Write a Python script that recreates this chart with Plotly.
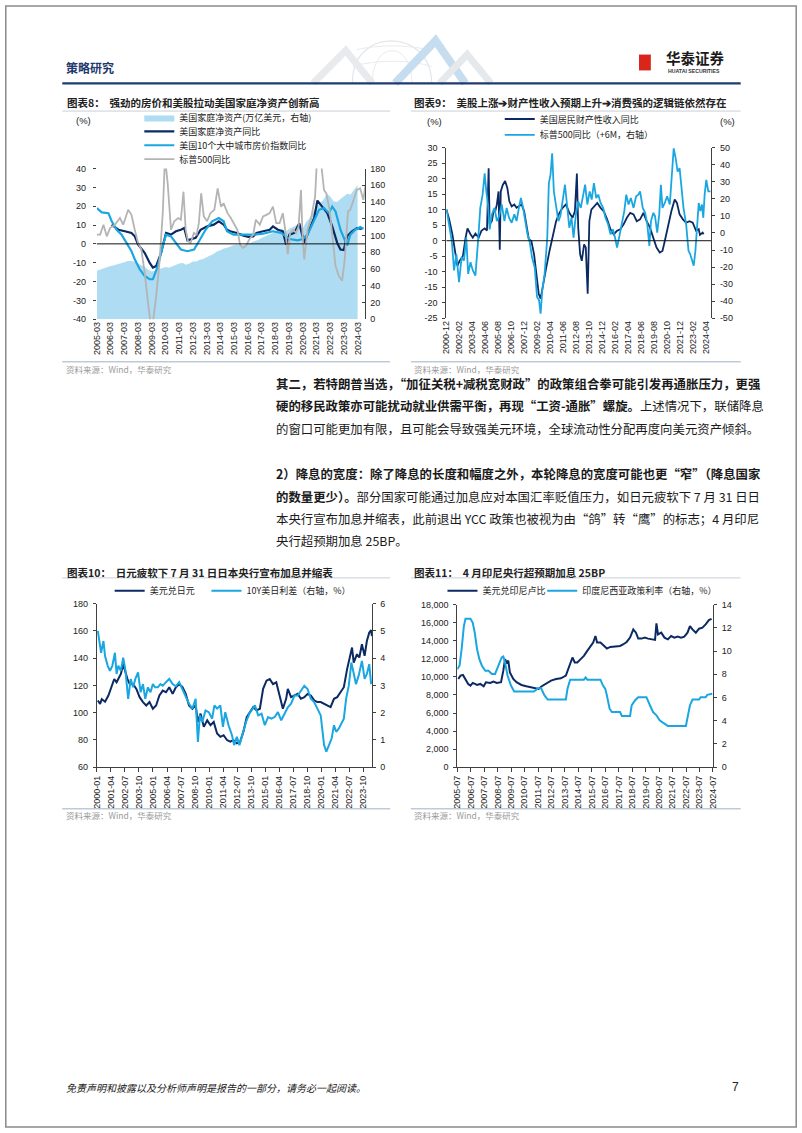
import plotly.graph_objects as go

W, H = 802, 1133
def fx(p): return p / W
def fy(p): return 1 - p / H
def ym(s):
    y, m = s.split("-")
    return int(y) + (int(m) - 1) / 12

NAVY = "#0B2A64"
SKY = "#1AA7E1"
AREA = "#AEDCF2"
GREY = "#B4B4B4"
AX = "#404040"
TXT = "#222222"
LAT = "Arial, Liberation Sans, Noto Sans CJK SC, sans-serif"
CJK = "Noto Sans CJK SC, Noto Sans, sans-serif"

# ---------------- Chart 8 data ----------------
c8_xlabels = ["2005-03", "2006-03", "2007-03", "2008-03", "2009-03", "2010-03", "2011-03",
              "2012-03", "2013-03", "2014-03", "2015-03", "2016-03", "2017-03", "2018-03",
              "2019-03", "2020-03", "2021-03", "2022-03", "2023-03", "2024-03"]
c8_left_ticks = [-40, -30, -20, -10, 0, 10, 20, 30, 40]
c8_right_ticks = [0, 20, 40, 60, 80, 100, 120, 140, 160, 180]
c8_networth_first = "2005-03"   # quarterly series
c8_networth = [58, 59.5, 61, 62, 63.5, 64.5, 65.5, 67, 68, 69.5, 69.5, 68.5,
               66.5, 65, 62.5, 59, 57, 58, 60, 61, 62.5, 61.5, 63.5, 65,
               66.5, 67, 65, 66.5, 69, 69, 71, 72, 74.5, 76, 78, 81,
               82.5, 84.5, 85.5, 87, 88.5, 89, 88, 89, 90, 91.5, 93.5, 94.5,
               97, 99, 101, 103, 104.5, 106, 108, 104, 108, 110, 112, 115,
               108, 116, 121, 128, 133, 139, 142, 150, 147, 141, 140, 144,
               147, 150, 149, 155, 160]
c8_nw_yoy_t = [2006.25, 2006.73, 2007.21, 2007.69, 2007.93, 2008.17, 2008.65, 2009.01, 2009.25, 2009.49,
               2009.85, 2010.21, 2010.57, 2010.93, 2011.29, 2011.53, 2011.77, 2012.01, 2012.37, 2012.73,
               2013.21, 2013.69, 2014.05, 2014.41, 2014.65, 2014.89, 2015.37, 2015.85, 2016.21, 2016.56,
               2016.80, 2017.28, 2017.76, 2018.00, 2018.36, 2018.72, 2018.96, 2019.20, 2019.56, 2019.92,
               2020.28, 2020.64, 2021.00, 2021.24, 2021.60, 2021.96, 2022.32, 2022.68, 2022.92, 2023.16,
               2023.40, 2023.76, 2024.12, 2024.48]
c8_nw_yoy = [10.2, 7.5, 6.7, 5.8, 4.0, -0.3, -4.7, -10.0, -12.6, -11.8,
             -4.7, 5.8, 4.9, 6.7, 7.5, 8.4, 1.9, 2.3, 3.2, 7.5,
             9.3, 10.2, 12.0, 10.2, 7.5, 6.7, 5.8, 4.4, 3.7, 4.0,
             5.8, 6.7, 7.5, 9.3, 7.5, 6.7, -0.4, 4.9, 5.8, 11.0,
             0.5, 7.5, 13.7, 23.0, 19.8, 16.3, 9.3, 0.5, -3.0, -3.3,
             4.0, 6.7, 8.4, 7.9]
c8_hp_t = [2005.17, 2005.53, 2006.01, 2006.25, 2006.61, 2006.97, 2007.33, 2007.69, 2007.93, 2008.29,
           2008.65, 2009.01, 2009.25, 2009.61, 2009.97, 2010.21, 2010.57, 2010.93, 2011.29, 2011.77,
           2012.25, 2012.61, 2013.09, 2013.57, 2014.05, 2014.41, 2014.65, 2015.12, 2015.85, 2016.56,
           2017.28, 2018.00, 2018.60, 2019.20, 2019.80, 2020.16, 2020.52, 2020.88, 2021.36, 2021.72,
           2022.08, 2022.32, 2022.56, 2022.92, 2023.28, 2023.40, 2023.64, 2024.00, 2024.36, 2024.60]
c8_hp = [19.0, 16.7, 16.3, 12.0, 7.5, 4.9, 0.5, -3.9, -8.2, -13.5,
         -17.0, -18.8, -18.8, -11.8, -1.2, 4.9, 4.0, 0.5, -3.0, -3.9,
         -3.0, 1.4, 7.5, 12.0, 13.7, 12.0, 6.7, 4.9, 4.9, 4.9,
         5.4, 6.7, 5.8, 2.6, 1.9, 2.6, 4.9, 10.2, 18.1, 19.0,
         16.3, 19.8, 17.2, 7.5, 0.5, -0.9, 4.9, 7.5, 8.9, 8.0]
c8_spx_t = [2005.17, 2005.41, 2005.65, 2005.89, 2006.13, 2006.49, 2006.85, 2007.09, 2007.45, 2007.69,
            2007.93, 2008.17, 2008.41, 2008.65, 2008.89, 2009.08, 2009.25, 2009.49, 2009.73, 2009.97,
            2010.13, 2010.33, 2010.57, 2010.81, 2011.09, 2011.29, 2011.48, 2011.64, 2011.81, 2012.00,
            2012.24, 2012.44, 2012.60, 2012.77, 2012.96, 2013.20, 2013.44, 2013.73, 2013.97, 2014.21,
            2014.40, 2014.69, 2014.93, 2015.17, 2015.41, 2015.60, 2015.79, 2016.03, 2016.27, 2016.56,
            2016.75, 2017.04, 2017.28, 2017.52, 2017.76, 2018.00, 2018.24, 2018.48, 2018.72, 2018.91,
            2019.08, 2019.25, 2019.49, 2019.68, 2019.87, 2020.04, 2020.16, 2020.28, 2020.52, 2020.76,
            2021.07, 2021.24, 2021.48, 2021.72, 2021.89, 2022.13, 2022.37, 2022.56, 2022.80, 2023.04,
            2023.23, 2023.47, 2023.64, 2023.88, 2024.11, 2024.35, 2024.59, 2024.74]
c8_spx = [4.9, 4.9, 10.2, 4.0, 8.4, 10.2, 13.7, 10.2, 18.1, 15.4,
          7.5, 0.5, -3.0, -15.3, -31.0, -42.0, -42.0, -27.7, -10.0, 16.3,
          46.0, 32.0, 7.5, 12.0, 13.7, 12.8, 27.7, 7.5, 1.4, 0.5,
          5.8, 4.9, 11.0, 26.8, 14.6, 12.0, 16.3, 18.1, 29.5, 19.8,
          21.6, 16.3, 13.7, 10.2, 7.5, -0.4, -2.1, -1.2, 2.3, 4.9,
          12.8, 10.2, 14.6, 15.4, 16.3, 19.8, 11.0, 11.0, 16.3, 6.7,
          -5.6, 5.8, 7.5, 5.8, 9.3, 28.6, 4.0, -8.2, 7.5, 12.8,
          25.0, 50.0, 45.0, 28.6, 26.8, 18.1, 2.3, -11.8, -17.0, -19.6,
          -8.2, 17.2, 18.1, 23.3, 28.6, 29.5, 23.3, 31.2]

# ---------------- Chart 9 data ----------------
c9_xlabels = ["2000-12", "2002-02", "2003-04", "2004-06", "2005-08", "2006-10", "2007-12",
              "2009-02", "2010-04", "2011-06", "2012-08", "2013-10", "2014-12", "2016-02",
              "2017-04", "2018-06", "2019-08", "2020-10", "2021-12", "2023-02", "2024-04"]
c9_left_ticks = [-25, -20, -15, -10, -5, 0, 5, 10, 15, 20, 25, 30]
c9_right_ticks = [-50, -40, -30, -20, -10, 0, 10, 20, 30, 40, 50]
c9_inc_t = [2000.92, 2001.16, 2001.45, 2001.69, 2001.90, 2002.10, 2002.40, 2002.64, 2002.81, 2003.08,
            2003.29, 2003.52, 2003.82, 2004.06, 2004.35, 2004.56, 2004.71, 2004.80, 2005.00, 2005.15,
            2005.30, 2005.45, 2005.60, 2005.71, 2005.80, 2005.98, 2006.19, 2006.39, 2006.57, 2006.78,
            2007.02, 2007.22, 2007.43, 2007.67, 2007.90, 2008.11, 2008.32, 2008.55, 2008.79, 2009.00,
            2009.21, 2009.38, 2009.59, 2009.89, 2010.18, 2010.48, 2010.77, 2011.07, 2011.36, 2011.66,
            2011.96, 2012.25, 2012.46, 2012.64, 2012.76, 2012.93, 2013.08, 2013.29, 2013.44, 2013.61,
            2013.76, 2013.94, 2014.18, 2014.47, 2014.77, 2015.06, 2015.36, 2015.66, 2015.95, 2016.25,
            2016.54, 2016.84, 2017.13, 2017.43, 2017.73, 2018.02, 2018.32, 2018.62, 2018.91, 2019.21,
            2019.50, 2019.80, 2020.09, 2020.33, 2020.54, 2020.84, 2021.13, 2021.43, 2021.63, 2021.87,
            2022.17, 2022.46, 2022.76, 2023.05, 2023.35, 2023.59, 2023.70, 2023.94, 2024.03]
c9_inc = [10, 6.9, 2.1, -3.3, -8.1, -6.5, -4.9, 1, 4, 2.1,
          1, 2.3, 1, 3.2, 4, 3.3, 23.4, 5.3, 6.3, 9.5,
          9.5, 11.7, 15.9, -2.9, 15.9, 18, 19.3, 17, 12.7, 11.1,
          11.7, 10.6, 11.1, 11.7, 9.5, 4.2, 0.5, -0.1, -4.3, -10.7,
          -17.1, -18.7, -15, -8.6, -3.3, 2.1, 6.3, 9, 10.6, 11.7,
          9, 7.4, 9.5, 21.7, 4.2, -4.3, -6.5, -1.2, -2.2, -17.1,
          6.3, 10, 11.1, 12.2, 10.6, 9.5, 6.9, 3.7, 2.1, 3.2,
          3.7, 5.3, 7.4, 9, 8.5, 6.3, 6.9, 9, 6.3, 4.2,
          1, -2.2, -3.8, -3.3, -0.1, 5.3, 9.5, 13.3, 12.2, 8.5,
          6.9, 5.8, 6.3, 5.8, 3.2, 3.7, 1.9, 2.6, 2.1]
c9_spx_t = [2000.92, 2001.16, 2001.40, 2001.60, 2001.81, 2002.05, 2002.28, 2002.49, 2002.70, 2002.87,
            2003.08, 2003.29, 2003.52, 2003.76, 2003.96, 2004.17, 2004.35, 2004.50, 2004.65, 2004.80,
            2005.00, 2005.24, 2005.45, 2005.65, 2005.89, 2006.13, 2006.33, 2006.54, 2006.78, 2007.02,
            2007.22, 2007.43, 2007.61, 2007.81, 2008.02, 2008.20, 2008.41, 2008.61, 2008.85, 2009.06,
            2009.24, 2009.38, 2009.53, 2009.74, 2009.98, 2010.12, 2010.27, 2010.42, 2010.57, 2010.77,
            2010.98, 2011.16, 2011.36, 2011.57, 2011.75, 2011.96, 2012.16, 2012.34, 2012.55, 2012.76,
            2012.99, 2013.20, 2013.38, 2013.58, 2013.79, 2013.97, 2014.17, 2014.38, 2014.56, 2014.77,
            2015.00, 2015.21, 2015.45, 2015.66, 2015.89, 2016.10, 2016.25, 2016.49, 2016.69, 2016.90,
            2017.08, 2017.28, 2017.49, 2017.73, 2017.96, 2018.17, 2018.32, 2018.56, 2018.77, 2018.97,
            2019.15, 2019.30, 2019.51, 2019.66, 2019.86, 2020.04, 2020.19, 2020.33, 2020.54, 2020.75,
            2020.99, 2021.19, 2021.34, 2021.52, 2021.69, 2021.87, 2022.02, 2022.22, 2022.46, 2022.67,
            2022.82, 2022.99, 2023.14, 2023.29, 2023.44, 2023.59, 2023.73, 2023.88, 2024.00, 2024.12,
            2024.27, 2024.45, 2024.65]
c9_spx = [14, 5, -4.7, -22, -12.4, -28.9, -14.3, -16.3, -2.7, -24,
          -17.2, -22, -25, -4.7, 14.7, 22.5, 35, 24.4, 16.7, 2.1,
          10.9, 14.7, 7, 9.9, 16.7, 7, 14.7, 8.9, 6, 10.9,
          7, 14.7, 20.5, 14.7, 5, -0.8, -5.6, -14.3, -20.2, -37.6,
          -39.5, -47.3, -33.7, -24, -2.7, 29.3, 34.1, 46.7, 24.4, 14.7,
          7, 9.9, 17.6, 28.3, 16.7, 3.1, 8.9, -2.7, 10.9, 18.6,
          14.7, 21.5, 28.3, 16.7, 24.4, 19.6, 29.3, 20.5, 22.5, 17.6,
          14.7, 8.9, 5, -0.8, 2.1, -3.7, -8.5, -0.8, 5, 12.8,
          22.5, 16.7, 20.5, 14.7, 21.5, 22.5, 24.4, 14.7, 11.8, 5,
          -7.6, 7, 11.8, 9.9, 0.2, 10.9, 28.3, 14.7, 17.6, 21.5,
          16.7, 34.1, 49.6, 43.8, 36, 38, 28.3, 14.7, 5, -10.5,
          -12.4, -16.3, -19.2, -10.5, 3.1, 17.6, 12.8, 16.7, 8.9, 22.5,
          31.2, 24.4, 24.4]

# ---------------- Chart 10 data ----------------
c10_xlabels = ["2000-01", "2001-04", "2002-07", "2003-10", "2005-01", "2006-04", "2007-07",
               "2008-10", "2010-01", "2011-04", "2012-07", "2013-10", "2015-01", "2016-04",
               "2017-07", "2018-10", "2020-01", "2021-04", "2022-07", "2023-10"]
c10_left_ticks = [60, 80, 100, 120, 140, 160, 180]
c10_right_ticks = [0, 1, 2, 3, 4, 5, 6]
c10_jpy_t = [2000.09, 2000.29, 2000.44, 2000.73, 2001.03, 2001.32, 2001.55, 2001.76, 2001.97, 2002.14,
             2002.35, 2002.49, 2002.73, 2002.93, 2003.23, 2003.52, 2003.81, 2004.11, 2004.40, 2004.69,
             2004.99, 2005.28, 2005.57, 2005.87, 2006.16, 2006.45, 2006.75, 2007.04, 2007.33, 2007.63,
             2007.92, 2008.21, 2008.51, 2008.80, 2009.00, 2009.24, 2009.53, 2009.83, 2010.12, 2010.41,
             2010.71, 2011.00, 2011.29, 2011.59, 2011.88, 2012.17, 2012.47, 2012.76, 2013.05, 2013.35,
             2013.64, 2013.93, 2014.23, 2014.52, 2014.81, 2015.11, 2015.40, 2015.69, 2015.98, 2016.28,
             2016.57, 2016.86, 2017.01, 2017.30, 2017.60, 2017.89, 2018.18, 2018.48, 2018.77, 2019.06,
             2019.36, 2019.65, 2019.94, 2020.24, 2020.53, 2020.82, 2021.12, 2021.41, 2021.70, 2022.00,
             2022.29, 2022.58, 2022.73, 2022.88, 2023.17, 2023.38, 2023.61, 2023.85, 2024.05, 2024.26,
             2024.43, 2024.50]
c10_jpy = [109, 106.5, 110, 108, 112.6, 118.7, 124.7, 122.3, 126, 128.4,
           135.6, 130.8, 124.7, 121, 121, 117.5, 111.4, 107.8, 105.3, 107.8,
           102.9, 105.3, 112.6, 116.2, 115, 118.7, 113.8, 118.7, 121, 118.7,
           113.8, 105.3, 102.9, 105.3, 93.2, 99.3, 89.6, 94.4, 90.8, 93.2,
           84.7, 82.3, 83.5, 79.9, 78.7, 79.9, 77.5, 78.7, 85.9, 96.8,
           100.5, 104.1, 101.7, 102.9, 117.5, 123.5, 124.7, 121, 122.3, 112.6,
           102.9, 110.2, 117.5, 111.4, 112.6, 113.8, 110.2, 111.4, 113.8, 112.6,
           109, 107.8, 107.8, 106.5, 105.8, 104.1, 110.2, 111.4, 115, 118.7,
           132, 141.7, 147.8, 136.8, 142.9, 140.5, 150.2, 141.7, 152.6, 158.7,
           160.6, 156.2]
c10_spread_t = [2000.09, 2000.21, 2000.38, 2000.59, 2000.73, 2000.97, 2001.17, 2001.38, 2001.61, 2001.76,
                2001.91, 2002.14, 2002.35, 2002.55, 2002.79, 2003.02, 2003.23, 2003.43, 2003.67, 2003.90,
                2004.11, 2004.31, 2004.55, 2004.78, 2004.99, 2005.19, 2005.43, 2005.66, 2005.87, 2006.16,
                2006.45, 2006.75, 2007.04, 2007.33, 2007.63, 2007.92, 2008.21, 2008.51, 2008.80, 2009.00,
                2009.18, 2009.39, 2009.68, 2009.97, 2010.27, 2010.47, 2010.71, 2011.00, 2011.23, 2011.44,
                2011.73, 2012.03, 2012.23, 2012.47, 2012.70, 2012.99, 2013.29, 2013.58, 2013.87, 2014.08,
                2014.37, 2014.67, 2014.96, 2015.25, 2015.54, 2015.84, 2016.13, 2016.42, 2016.72, 2017.01,
                2017.30, 2017.60, 2017.89, 2018.18, 2018.48, 2018.77, 2019.06, 2019.36, 2019.65, 2019.94,
                2020.24, 2020.44, 2020.68, 2020.91, 2021.12, 2021.32, 2021.56, 2021.79, 2022.00, 2022.20,
                2022.44, 2022.67, 2022.88, 2023.08, 2023.32, 2023.61, 2023.85, 2024.05, 2024.26, 2024.43]
c10_spread = [5.0, 4.57, 4.2, 4.63, 4.08, 3.72, 3.54, 3.72, 4.2, 3.42,
              3.72, 3.54, 4.02, 3.54, 2.51, 3.24, 2.93, 3.24, 3.48, 2.75,
              3.05, 2.51, 2.93, 2.75, 3.05, 2.93, 2.93, 3.05, 2.99, 3.12,
              3.24, 3.05, 2.97, 3.12, 2.87, 2.63, 2.33, 2.15, 2.51, 0.93,
              1.9, 1.66, 2.08, 2.02, 1.78, 2.27, 2.15, 2.27, 1.48, 2.02,
              1.54, 1.18, 0.81, 1.12, 0.81, 1.24, 1.66, 1.96, 2.15, 2.27,
              1.9, 1.96, 1.54, 1.84, 1.78, 1.84, 2.02, 1.72, 1.96, 2.2,
              2.33, 2.63, 2.63, 2.81, 2.99, 2.87, 2.51, 2.39, 2.15, 1.9,
              0.81, 0.57, 0.81, 1.05, 1.54, 1.3, 1.42, 1.6, 1.78, 2.51,
              2.99, 3.84, 3.36, 3.05, 3.36, 3.9, 3.24, 3.42, 3.78, 3.05]

# ---------------- Chart 11 data ----------------
c11_xlabels = ["2005-07", "2006-07", "2007-07", "2008-07", "2009-07", "2010-07", "2011-07",
               "2012-07", "2013-07", "2014-07", "2015-07", "2016-07", "2017-07", "2018-07",
               "2019-07", "2020-07", "2021-07", "2022-07", "2023-07", "2024-07"]
c11_left_ticks = [0, 2000, 4000, 6000, 8000, 10000, 12000, 14000, 16000, 18000]
c11_right_ticks = [0, 2, 4, 6, 8, 10, 12, 14]
c11_idr_t = [2005.57, 2005.74, 2005.92, 2006.11, 2006.31, 2006.48, 2006.65, 2006.97, 2007.21, 2007.46,
             2007.63, 2007.95, 2008.19, 2008.43, 2008.75, 2008.92, 2009.05, 2009.17, 2009.29, 2009.41,
             2009.66, 2009.90, 2010.27, 2010.63, 2011.00, 2011.25, 2011.54, 2011.78, 2012.10, 2012.47,
             2012.84, 2013.20, 2013.57, 2013.74, 2013.94, 2014.06, 2014.23, 2014.42, 2014.67, 2014.91,
             2015.16, 2015.40, 2015.60, 2015.77, 2015.89, 2016.14, 2016.38, 2016.62, 2016.87, 2017.11,
             2017.36, 2017.60, 2017.85, 2018.09, 2018.34, 2018.58, 2018.78, 2018.95, 2019.19, 2019.44,
             2019.68, 2019.93, 2020.20, 2020.30, 2020.42, 2020.66, 2020.90, 2021.15, 2021.39, 2021.64,
             2021.88, 2022.13, 2022.37, 2022.61, 2022.79, 2022.98, 2023.23, 2023.47, 2023.72, 2023.96,
             2024.20, 2024.40]
c11_idr = [9770, 10140, 10210, 9770, 9220, 9040, 9330, 9110, 9220, 8970,
           9410, 9330, 9480, 9330, 9410, 10690, 11970, 11600, 11790, 10500,
           9770, 9410, 9110, 8970, 8860, 8750, 8670, 8970, 9220, 9590,
           9770, 9850, 10140, 10870, 11600, 12150, 11600, 11600, 11970, 12330,
           12880, 13430, 13800, 14530, 13800, 13800, 13430, 13140, 13320, 13360,
           13430, 13430, 13620, 13870, 14350, 15260, 14900, 14240, 14240, 14350,
           14240, 14160, 14100, 15920, 14710, 14900, 14350, 14160, 14530, 14350,
           14460, 14350, 14460, 14900, 15630, 15260, 14900, 15340, 15450, 15810,
           16290, 16430]
c11_rate_t = [2005.50, 2005.67, 2005.82, 2005.99, 2006.11, 2006.48, 2006.65, 2006.80, 2006.97, 2007.14,
              2007.33, 2007.58, 2007.82, 2008.07, 2008.31, 2008.56, 2008.80, 2008.92, 2009.05, 2009.24,
              2009.49, 2009.73, 2010.02, 2010.51, 2011.20, 2011.49, 2011.73, 2011.98, 2012.22, 2012.47,
              2013.57, 2013.69, 2013.89, 2014.91, 2015.04, 2015.16, 2016.14, 2016.33, 2016.50, 2016.62,
              2016.82, 2016.99, 2017.60, 2017.73, 2018.34, 2018.46, 2018.70, 2018.95, 2019.56, 2019.80,
              2020.05, 2020.30, 2020.54, 2020.78, 2021.15, 2022.49, 2022.61, 2022.79, 2022.98, 2023.47,
              2023.59, 2023.96, 2024.08, 2024.45]
c11_rate = [8.45, 8.74, 10.16, 12.15, 12.78, 12.78, 12.44, 11.58, 10.16, 9.31,
            8.74, 8.31, 8.31, 8.03, 8.03, 8.74, 9.45, 9.53, 9.02, 7.88,
            7.03, 6.52, 6.52, 6.52, 6.52, 6.8, 6.8, 6.18, 5.83, 5.83,
            5.83, 6.75, 7.54, 7.54, 7.74, 7.54, 7.54, 7.03, 6.75, 6.18,
            5.04, 4.75, 4.75, 4.41, 4.41, 5.32, 5.75, 6.03, 6.03, 5.38,
            4.75, 4.47, 4.04, 3.84, 3.56, 3.56, 4.18, 5.32, 5.83, 5.83,
            6.03, 6.03, 6.23, 6.32]

# ---------------- texts ----------------
title8 = "<b>图表8：  强劲的房价和美股拉动美国家庭净资产创新高</b>"
title9 = "<b>图表9：  美股上涨➔财产性收入预期上升➔消费强的逻辑链依然存在</b>"
title10 = "<b>图表10：  日元疲软下 7 月 31 日日本央行宣布加息并缩表</b>"
title11 = "<b>图表11：  4 月印尼央行超预期加息 25BP</b>"
source = "资料来源：Wind，华泰研究"
body_lines = [
    "<b>其二，若特朗普当选，“加征关税+减税宽财政”的政策组合拳可能引发再通胀压力，更强</b>",
    "<b>硬的移民政策亦可能扰动就业供需平衡，再现“工资-通胀”螺旋。</b>上述情况下，联储降息",
    "的窗口可能更加有限，且可能会导致强美元环境，全球流动性分配再度向美元资产倾斜。",
    "<b>2）降息的宽度：除了降息的长度和幅度之外，本轮降息的宽度可能也更“窄”（降息国家</b>",
    "<b>的数量更少）。</b>部分国家可能通过加息应对本国汇率贬值压力，如日元疲软下 7 月 31 日日",
    "本央行宣布加息并缩表，此前退出 YCC 政策也被视为由“鸽”转“鹰”的标志；4 月印尼",
    "央行超预期加息 25BP。",
]
body_y = [382, 405, 428, 473, 496, 519, 541]

fig = go.Figure()

# chart 8 (area on base right axis, lines on overlay left axis)
c8_nw_t = [ym(c8_networth_first) + 0.25 * i for i in range(len(c8_networth))]
fig.add_trace(go.Scatter(x=c8_nw_t, y=c8_networth, xaxis="x", yaxis="y", mode="lines",
                         fill="tozeroy", fillcolor=AREA, line=dict(width=0, color=AREA),
                         name="美国家庭净资产(万亿美元，右轴)", legend="legend"))
fig.add_trace(go.Scatter(x=c8_nw_yoy_t, y=c8_nw_yoy, xaxis="x", yaxis="y2", mode="lines",
                         line=dict(color=NAVY, width=2.2), name="美国家庭净资产同比", legend="legend2"))
fig.add_trace(go.Scatter(x=c8_hp_t, y=c8_hp, xaxis="x", yaxis="y2", mode="lines",
                         line=dict(color=SKY, width=2.2), name="美国10个大中城市房价指数同比", legend="legend3"))
fig.add_trace(go.Scatter(x=c8_spx_t, y=c8_spx, xaxis="x", yaxis="y2", mode="lines",
                         line=dict(color=GREY, width=1.8), name="标普500同比", legend="legend4"))

# chart 9
fig.add_trace(go.Scatter(x=c9_inc_t, y=c9_inc, xaxis="x2", yaxis="y3", mode="lines",
                         line=dict(color=NAVY, width=1.8), name="美国居民财产性收入同比", legend="legend5"))
fig.add_trace(go.Scatter(x=c9_spx_t, y=c9_spx, xaxis="x2", yaxis="y4", mode="lines",
                         line=dict(color=SKY, width=1.8), name="标普500同比（+6M，右轴）", legend="legend6"))

# chart 10
fig.add_trace(go.Scatter(x=c10_jpy_t, y=c10_jpy, xaxis="x3", yaxis="y5", mode="lines",
                         line=dict(color=NAVY, width=2), name="美元兑日元", legend="legend7"))
fig.add_trace(go.Scatter(x=c10_spread_t, y=c10_spread, xaxis="x3", yaxis="y6", mode="lines",
                         line=dict(color=SKY, width=2), name="10Y美日利差（右轴，%）", legend="legend8"))

# chart 11
fig.add_trace(go.Scatter(x=c11_idr_t, y=c11_idr, xaxis="x4", yaxis="y7", mode="lines",
                         line=dict(color=NAVY, width=2), name="美元兑印尼卢比", legend="legend9"))
fig.add_trace(go.Scatter(x=c11_rate_t, y=c11_rate, xaxis="x4", yaxis="y8", mode="lines",
                         line=dict(color=SKY, width=2), name="印度尼西亚政策利率（右轴，%）", legend="legend10"))

TICKFONT = dict(family=LAT, size=9, color=TXT)

def xcfg(px0, px1, rng, labels, anchor, line):
    return dict(domain=[fx(px0), fx(px1)], range=rng, anchor=anchor, tickmode="array",
                tickvals=[ym(s) for s in labels], ticktext=labels, tickangle=-90,
                tickfont=TICKFONT, showgrid=False, zeroline=False, showline=line,
                linecolor=AX, linewidth=1, ticks="outside" if line else "", ticklen=4,
                tickcolor=AX, fixedrange=True)

def ycfg(top, bottom, vals, side, anchor, ticks="outside", line=True, overlaying=None,
         fmt=str, standoff=3):
    d = dict(domain=[fy(bottom), fy(top)], range=[vals[0], vals[-1]], side=side, anchor=anchor,
             tickmode="array", tickvals=vals, ticktext=[fmt(v) for v in vals], tickfont=TICKFONT,
             showgrid=False, zeroline=False, showline=line, linecolor=AX, linewidth=1,
             ticks=ticks, ticklen=3, tickcolor=AX, ticklabelstandoff=standoff, fixedrange=True)
    if overlaying:
        d["overlaying"] = overlaying
    return d

comma = lambda v: f"{v:,}"

layout = dict(
    width=W, height=H, autosize=False, margin=dict(l=0, r=0, t=0, b=0),
    paper_bgcolor="white", plot_bgcolor="rgba(0,0,0,0)",
    font=dict(family=LAT, color=TXT, size=9),
    xaxis=xcfg(93, 365, [ym("2005-03"), 2024.74], c8_xlabels, "y", False),
    yaxis=ycfg(165, 317, c8_right_ticks, "right", "x", ticks="inside", line=True, standoff=2),
    yaxis2=ycfg(165, 317, c8_left_ticks, "left", "x", line=False, overlaying="y", standoff=5),
    xaxis2=xcfg(447, 715, [ym("2000-12"), 2024.70], c9_xlabels, "y3", False),
    yaxis3=ycfg(144, 316, c9_left_ticks, "left", "x2", standoff=3),
    yaxis4=ycfg(144, 316, c9_right_ticks, "right", "x2", overlaying="y3", standoff=3),
    xaxis3=xcfg(93, 372, [ym("2000-01"), 2024.54], c10_xlabels, "y5", True),
    yaxis5=ycfg(604, 769, c10_left_ticks, "left", "x3", standoff=3),
    yaxis6=ycfg(604, 769, c10_right_ticks, "right", "x3", overlaying="y5", standoff=2),
    xaxis4=xcfg(458, 717, [ym("2005-07"), 2024.51], c11_xlabels, "y7", True),
    yaxis7=ycfg(605, 769, c11_left_ticks, "left", "x4", fmt=comma, standoff=3),
    yaxis8=ycfg(605, 769, c11_right_ticks, "right", "x4", overlaying="y7", standoff=3),
    showlegend=True,
)

LEGFONT = dict(family=CJK, size=9, color=TXT)
def leg(x, yc):
    return dict(x=fx(x), y=fy(yc), xanchor="left", yanchor="middle", bgcolor="rgba(0,0,0,0)",
                font=LEGFONT, itemwidth=30, tracegroupgap=0)

# one legend box per entry so each sits where the reference shows it
legend_pos = {"legend": (136, 113.5), "legend2": (136, 127.5), "legend3": (136, 141.5), "legend4": (136, 155.5),
              "legend5": (501, 115), "legend6": (501, 131),
              "legend7": (106, 591), "legend8": (204, 591),
              "legend9": (443, 591), "legend10": (544, 591)}
for k, (x, yc) in legend_pos.items():
    layout[k] = leg(x, yc)

shapes = []
def hline(x0, x1, y, color, width):
    shapes.append(dict(type="line", xref="paper", yref="paper", x0=fx(x0), x1=fx(x1),
                       y0=fy(y), y1=fy(y), line=dict(color=color, width=width)))
def deco_path(pts, color, width):
    d = "M " + " L ".join(f"{fx(a):.5f},{fy(b):.5f}" for a, b in pts)
    shapes.append(dict(type="path", xref="paper", yref="paper", path=d,
                       line=dict(color=color, width=width), layer="below"))
def deco_curve(p0, c1, c2, p1, color, width):
    d = (f"M {fx(p0[0]):.5f},{fy(p0[1]):.5f} C {fx(c1[0]):.5f},{fy(c1[1]):.5f} "
         f"{fx(c2[0]):.5f},{fy(c2[1]):.5f} {fx(p1[0]):.5f},{fy(p1[1]):.5f}")
    shapes.append(dict(type="path", xref="paper", yref="paper", path=d,
                       line=dict(color=color, width=width), layer="below"))

# faint header watermark (globe + ribbons)
deco_curve((352, 79), (350, 22), (432, 22), (432, 79), "#e3e6ea", 1.2)
deco_curve((372, 79), (372, 35), (412, 35), (412, 79), "#e9ebee", 1)
deco_curve((352, 62), (375, 55), (410, 55), (432, 62), "#e9ebee", 1)
deco_curve((356, 45), (380, 40), (405, 40), (428, 45), "#e9ebee", 1)
deco_path([(312, 79), (345, 46), (372, 79)], "#e8eaed", 7)
deco_path([(395, 79), (436, 36), (466, 79)], "#c6dcef", 8)
deco_path([(440, 79), (468, 50), (492, 79)], "#e6e9ec", 7)

# page frame, header rule, title rules, source rules
shapes.append(dict(type="rect", xref="paper", yref="paper", x0=0.001, x1=0.999, y0=0.0008, y1=0.9992,
                   line=dict(color="#8a8a8a", width=1.5), fillcolor="rgba(0,0,0,0)"))
hline(58, 745, 79, "#1F3A6E", 2.2)
for (a, b) in [(58, 390), (411, 745)]:
    hline(a, b, 107, "#C9CFD8", 1)
    hline(a, b, 360, "#9FB0C6", 1)
    hline(a, b, 578, "#C9CFD8", 1)
    hline(a, b, 811, "#9FB0C6", 1)
# logo block
shapes.append(dict(type="rect", xref="paper", yref="paper", x0=fx(642), x1=fx(654), y0=fy(66), y1=fy(50),
                   line=dict(width=0), fillcolor="#D9261C"))
# zero lines on the left-value axes of charts 8 and 9
shapes.append(dict(type="line", xref="x domain", x0=0, x1=1, yref="y2", y0=0, y1=0,
                   line=dict(color="#111111", width=1), layer="above"))
shapes.append(dict(type="line", xref="x2 domain", x0=0, x1=1, yref="y3", y0=0, y1=0,
                   line=dict(color="#111111", width=1), layer="above"))
layout["shapes"] = shapes

ann = []
def text(x, y, s, size, color=TXT, family=CJK, xanchor="left"):
    ann.append(dict(x=fx(x), y=fy(y), xref="paper", yref="paper", text=s, showarrow=False,
                    xanchor=xanchor, yanchor="middle", font=dict(family=family, size=size, color=color)))

text(60, 63, "<b>策略研究</b>", 12, color="#1F3A6E")
text(667, 53, "<b>华泰证券</b>", 14.5, color="#1a1a1a")
text(669, 67, "<b>HUATAI SECURITIES</b>", 5.2, color="#333333", family=LAT)
text(61, 98.5, title8, 10.5)
text(412, 98.5, title9, 10.5)
text(61, 573, title10, 10.5)
text(412, 573, title11, 10.5)
text(70, 117, "(%)", 9.5, family=LAT)
text(425, 118, "(%)", 9.5, family=LAT)
text(722, 118, "(%)", 9.5, family=LAT)
for (x, y) in [(60, 367), (412, 367), (60, 817), (412, 817)]:
    text(x, y, source, 8.5, color="#9a9a9a")
for s, y in zip(body_lines, body_y):
    text(272, y, s, 12.4, color="#1a1a1a")
text(60, 1092, "<i>免责声明和披露以及分析师声明是报告的一部分，请务必一起阅读。</i>", 10, color="#1a1a1a")
text(745, 1092, "7", 12, family=LAT, xanchor="right")
layout["annotations"] = ann

fig.update_layout(**layout)
fig.write_html("out.html", include_plotlyjs=True, config={"displayModeBar": False})
